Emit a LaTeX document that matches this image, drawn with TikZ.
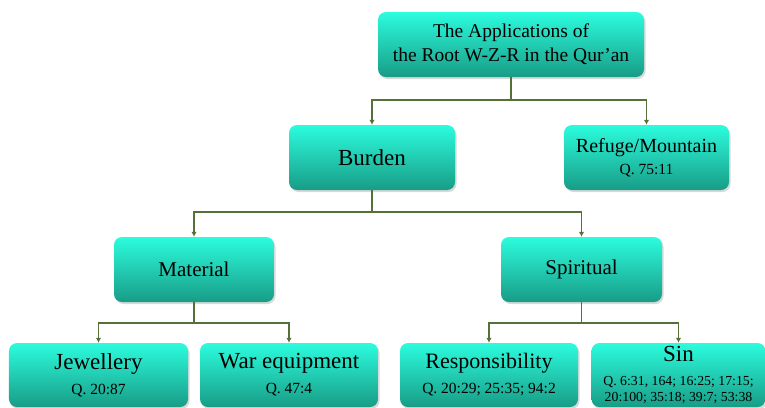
\documentclass[tikz,border=0pt]{standalone}
\usepackage{fontspec}
\setmainfont{Liberation Serif}
\usetikzlibrary{shadows}
\usetikzlibrary{arrows.meta}
\tikzset{>=latex}
\definecolor{boxtop}{RGB}{44,252,222}
\definecolor{boxbot}{RGB}{24,156,134}
\definecolor{linkcol}{RGB}{86,112,58}
\newcommand{\sizeat}[2]{\fontsize{#1bp}{#2bp}\selectfont}
\tikzset{
	box/.style={rounded corners=8bp, top color=boxtop, bottom color=boxbot, draw=none, inner sep=0pt, align=center,
		drop shadow={opacity=0.3, shadow xshift=1.5bp, shadow yshift=-2bp}},
	link/.style={draw=linkcol, line width=1.6bp, -{Latex[length=5bp,width=5.5bp]}}
}

\begin{document}
\begin{tikzpicture}[x=1bp,y=-1bp]
			\useasboundingbox (0,0) rectangle (765,407);
			
			\node[box, minimum width=266bp, minimum height=65bp, font=\sizeat{19.5}{24}] (title) at (511,44.5) {The Applications of\\the Root W-Z-R in the Qur’an};
			
			\node[box, minimum width=166bp, minimum height=65bp, font=\sizeat{23}{25}] (burden) at (372,157.5) {Burden};
			\node[box, minimum width=165bp, minimum height=65bp, font=\sizeat{20}{22}] (refuge) at (646.5,157.5) {Refuge/Mountain\\{\sizeat{15.5}{22}Q. 75:11}};
			
			\node[box, minimum width=160bp, minimum height=65bp, font=\sizeat{21}{25}] (material) at (194,269.5) {Material};
			\node[box, minimum width=161bp, minimum height=65bp, font=\sizeat{21}{25}] (spiritual) at (581.5,269.5) {Spiritual};
			
			\node[box, minimum width=179bp, minimum height=64bp, font=\sizeat{23}{25}] (jewel) at (98.5,375) {Jewellery\\{\sizeat{15.5}{25}Q. 20:87}};
			\node[box, minimum width=178bp, minimum height=64bp, font=\sizeat{23}{25}] (war) at (289,375) {War equipment\\{\sizeat{15.5}{25}Q. 47:4}};
			\node[box, minimum width=178bp, minimum height=64bp, font=\sizeat{22}{25}] (resp) at (489,375) {Responsibility\\{\sizeat{15.5}{25}Q. 20:29; 25:35; 94:2}};
			\node[box, minimum width=174bp, minimum height=64bp, font=\sizeat{23}{24}] (sin) at (678.5,375) {Sin\\{\sizeat{13.8}{24}Q. 6:31, 164; 16:25; 17:15;}\\[-8bp]{\sizeat{13.8}{24}20:100; 35:18; 39:7; 53:38}};
			
			\draw[link] (title.south) -- ++(0,23) -| (burden.north);
			\draw[link] (title.south) -- ++(0,23) -| (refuge.north);
			
			\draw[link] (burden.south) -- ++(0,22) -| (material.north);
			\draw[link] (burden.south) -- ++(0,22) -| (spiritual.north);
			
			\draw[link] (material.south) -- ++(0,21) -| (jewel.north);
			\draw[link] (material.south) -- ++(0,21) -| (war.north);
			\draw[link] (spiritual.south) -- ++(0,21) -| (resp.north);
			\draw[link] (spiritual.south) -- ++(0,21) -| (sin.north);
			
		\end{tikzpicture}
\end{document}
